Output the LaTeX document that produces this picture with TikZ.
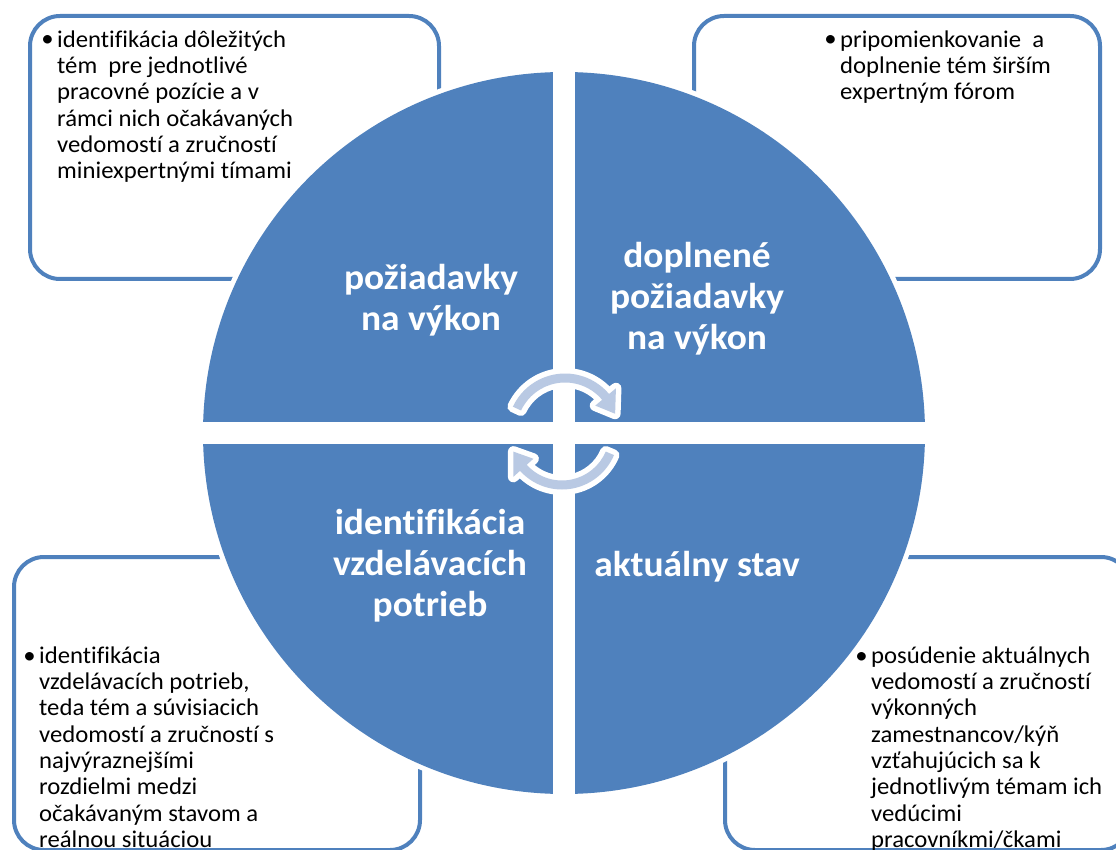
\documentclass[tikz,border=0pt]{standalone}
\usepackage{fontspec}
\setmainfont{Carlito}
\newfontfamily\boxfont[FakeStretch=1.03, Ligatures=NoCommon]{Carlito}
\newfontfamily\labelfont[FakeStretch=1.04, Ligatures=NoCommon]{Carlito}
\definecolor{accblue}{RGB}{79,129,189}
\definecolor{arrowfill}{RGB}{185,201,227}
\begin{document}
\begin{tikzpicture}[x=1pt,y=-1pt,
  infobox/.style={draw=accblue, line width=4pt, fill=white, rounded corners=30pt, inner sep=0pt, anchor=north west},
  boxtext/.style={font=\boxfont\fontsize{24}{26.3}\selectfont, align=left, inner sep=0pt, anchor=north west},
  bul/.style={font=\boxfont\fontsize{24}{26.3}\selectfont, inner sep=0pt, anchor=base east},
  quadlabel/.style={font=\labelfont\fontsize{36}{41}\selectfont\bfseries, text=white, align=center, inner sep=0pt},
  cyclearrow/.style={fill=arrowfill, preaction={draw=white, line width=11pt, line join=round}}]
\useasboundingbox (0,0) rectangle (1116,850);

% corner boxes
\node[infobox, minimum width=409pt, minimum height=263pt] (boxTL) at (28,14) {};
\node[infobox, minimum width=406pt, minimum height=263pt] (boxTR) at (692,14) {};
\node[infobox, minimum width=406pt, minimum height=293pt] (boxBL) at (12,555) {};
\node[infobox, minimum width=406pt, minimum height=293pt] (boxBR) at (723,555) {};

% box texts
\node[bul] (bulTL) at (54,47) {•};
\node[boxtext] (txtTL) at (57,28.6) {\strut identifikácia dôležitých\\tém\ \ pre jednotlivé\\pracovné pozície a v\\rámci nich očakávaných\\vedomostí a zručností\\miniexpertnými tímami};
\node[bul] (bulTR) at (837,47) {•};
\node[boxtext] (txtTR) at (840,28.6) {\strut pripomienkovanie\ \ a\\doplnenie tém širším\\expertným fórom};
\node[bul] (bulBL) at (36,663) {•};
\node[boxtext] (txtBL) at (39,644.6) {\strut identifikácia\\vzdelávacích potrieb,\\teda tém a súvisiacich\\vedomostí a zručností s\\najvýraznejšími\\rozdielmi medzi\\očakávaným stavom a\\reálnou situáciou};
\node[bul] (bulBR) at (868,663) {•};
\node[boxtext] (txtBR) at (871,644.6) {\strut posúdenie aktuálnych\\vedomostí a zručností\\výkonných\\zamestnancov/kýň\\vzťahujúcich sa k\\jednotlivým témam ich\\vedúcimi\\pracovníkmi/čkami};

% circle split into quadrants
\draw[white, line width=6pt] (564,433) circle[radius=363];
\fill[accblue] (564,433) circle[radius=361];
\fill[white] (553,60) rectangle (575,806);
\fill[white] (190,422) rectangle (938,444);

% quadrant labels
\node[quadlabel] (qTL) at (431,300) {požiadavky\\na výkon};
\node[quadlabel] (qTR) at (697,299) {doplnené\\požiadavky\\na výkon};
\node[quadlabel] (qBL) at (430,566) {identifikácia\\vzdelávacích\\potrieb};
\node[quadlabel] (qBR) at (697,567) {aktuálny stav};

% circular arrows
\begin{scope}[shift={(565,431)}]
\path[cyclearrow] (205:48.5) -- (205:57.5) arc[start angle=205, end angle=320, radius=57.5]
  -- (320:66.5) -- (341:53) -- (320:39.5) -- (320:48.5)
  arc[start angle=320, end angle=205, radius=48.5] -- cycle;
\end{scope}
\begin{scope}[shift={(562,433)}]
\path[cyclearrow] (23:47.5) -- (23:56.5) arc[start angle=23, end angle=138, radius=56.5]
  -- (138:65.5) -- (159:52) -- (138:38.5) -- (138:47.5)
  arc[start angle=138, end angle=23, radius=47.5] -- cycle;
\end{scope}
\end{tikzpicture}
\end{document}
